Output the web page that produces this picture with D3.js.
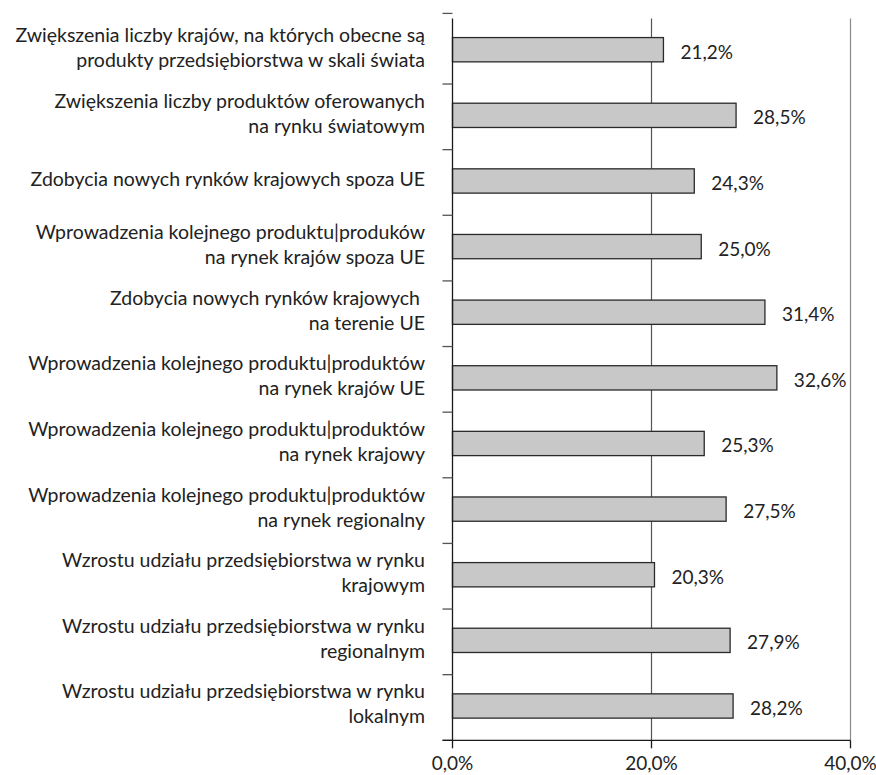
<!DOCTYPE html>
<html>
<head>
<meta charset="utf-8">
<script src="https://cdn.jsdelivr.net/npm/d3@7"></script>
<style>
  html, body { margin: 0; padding: 0; background: #fff; }
  svg text { font-family: "Lato", "Open Sans", sans-serif; fill: #222; }
</style>
</head>
<body>
<svg id="chart" width="876" height="775"></svg>
<script>
// Category labels (each entry is a list of lines), top to bottom
const categories = [
  ["Zwiększenia liczby krajów, na których obecne są", "produkty przedsiębiorstwa w skali świata"],
  ["Zwiększenia liczby produktów oferowanych", "na rynku światowym"],
  ["Zdobycia nowych rynków krajowych spoza UE"],
  ["Wprowadzenia kolejnego produktu|produków", "na rynek krajów spoza UE"],
  ["Zdobycia nowych rynków krajowych ", "na terenie UE"],
  ["Wprowadzenia kolejnego produktu|produktów", "na rynek krajów UE"],
  ["Wprowadzenia kolejnego produktu|produktów", "na rynek krajowy"],
  ["Wprowadzenia kolejnego produktu|produktów", "na rynek regionalny"],
  ["Wzrostu udziału przedsiębiorstwa w rynku", "krajowym"],
  ["Wzrostu udziału przedsiębiorstwa w rynku", "regionalnym"],
  ["Wzrostu udziału przedsiębiorstwa w rynku", "lokalnym"]
];

// Share of responses, in percent
const values = [21.2, 28.5, 24.3, 25.0, 31.4, 32.6, 25.3, 27.5, 20.3, 27.9, 28.2];

// Horizontal axis ticks, in percent
const xTicks = [0, 20, 40];

const fmt = v => v.toFixed(1).replace(".", ",") + "%";

const svg = d3.select("#chart");
const plotL = 452.5, plotR = 850.5, plotT = 18.4, plotB = 740.3;

const x = d3.scaleLinear().domain([0, 40]).range([plotL, plotR]);
const y = d3.scaleBand()
  .domain(d3.range(categories.length))
  .range([plotT, plotB])
  .paddingInner(0.63)
  .paddingOuter(0.315);

const bandStep = y.step();

// Vertical gridlines
svg.append("g")
  .selectAll("line")
  .data(xTicks.filter(t => t > 0))
  .join("line")
  .attr("x1", d => x(d)).attr("x2", d => x(d))
  .attr("y1", plotT).attr("y2", plotB)
  .attr("stroke", (d, i) => i === 0 ? "#555" : "#8a8a8a")
  .attr("stroke-width", 1.2);

// Bars
svg.append("g")
  .selectAll("rect")
  .data(values)
  .join("rect")
  .attr("x", x(0))
  .attr("y", (d, i) => y(i) - 1.5)
  .attr("width", d => x(d) - x(0))
  .attr("height", y.bandwidth())
  .attr("fill", "#c8c8c8")
  .attr("stroke", "#2a2a2a")
  .attr("stroke-width", 1.3);

// Value labels
svg.append("g")
  .selectAll("text")
  .data(values)
  .join("text")
  .attr("x", d => x(d) + 17)
  .attr("y", (d, i) => y(i) + y.bandwidth() / 2)
  .attr("dominant-baseline", "central")
  .attr("font-size", 19)
  .text(d => fmt(d));

// Category axis: ticks at band boundaries
const yAxis = svg.append("g");
yAxis.append("line")
  .attr("x1", plotL).attr("x2", plotL)
  .attr("y1", plotT).attr("y2", plotB)
  .attr("stroke", "#1a1a1a").attr("stroke-width", 1.3);
yAxis.selectAll("line.tick")
  .data(d3.range(categories.length + 1))
  .join("line")
  .attr("class", "tick")
  .attr("x1", plotL - 10).attr("x2", plotL)
  .attr("y1", i => i === 0 ? plotT - 5 : plotT + i * bandStep)
  .attr("y2", i => i === 0 ? plotT - 5 : plotT + i * bandStep)
  .attr("stroke", "#555").attr("stroke-width", 1.3);

// Category labels
const lineH = 25;
yAxis.selectAll("text")
  .data(categories)
  .join("text")
  .attr("text-anchor", "end")
  .attr("font-size", 19.5)
  .style("white-space", "pre")
  .each(function(lines, i) {
    const cy = plotT + (i + 0.5) * bandStep;
    const t = d3.select(this);
    lines.forEach((ln, k) => {
      t.append("tspan")
        .attr("x", 425)
        .attr("y", cy + (k - (lines.length - 1) / 2) * lineH - 4)
        .attr("dominant-baseline", "central")
        .text(ln);
    });
  });

// Value axis at the bottom
const xAxis = svg.append("g").attr("transform", `translate(0,${plotB})`);
xAxis.append("line")
  .attr("x1", plotL - 10).attr("x2", plotR)
  .attr("stroke", "#1a1a1a").attr("stroke-width", 1.3);
xAxis.selectAll("line.tick")
  .data(xTicks)
  .join("line")
  .attr("class", "tick")
  .attr("x1", d => x(d)).attr("x2", d => x(d))
  .attr("y1", 0).attr("y2", 8)
  .attr("stroke", "#1a1a1a").attr("stroke-width", 1.3);
xAxis.selectAll("text")
  .data(xTicks)
  .join("text")
  .attr("x", d => x(d))
  .attr("y", 22)
  .attr("text-anchor", "middle")
  .attr("dominant-baseline", "central")
  .attr("font-size", 19)
  .text(d => fmt(d));
</script>
</body>
</html>
